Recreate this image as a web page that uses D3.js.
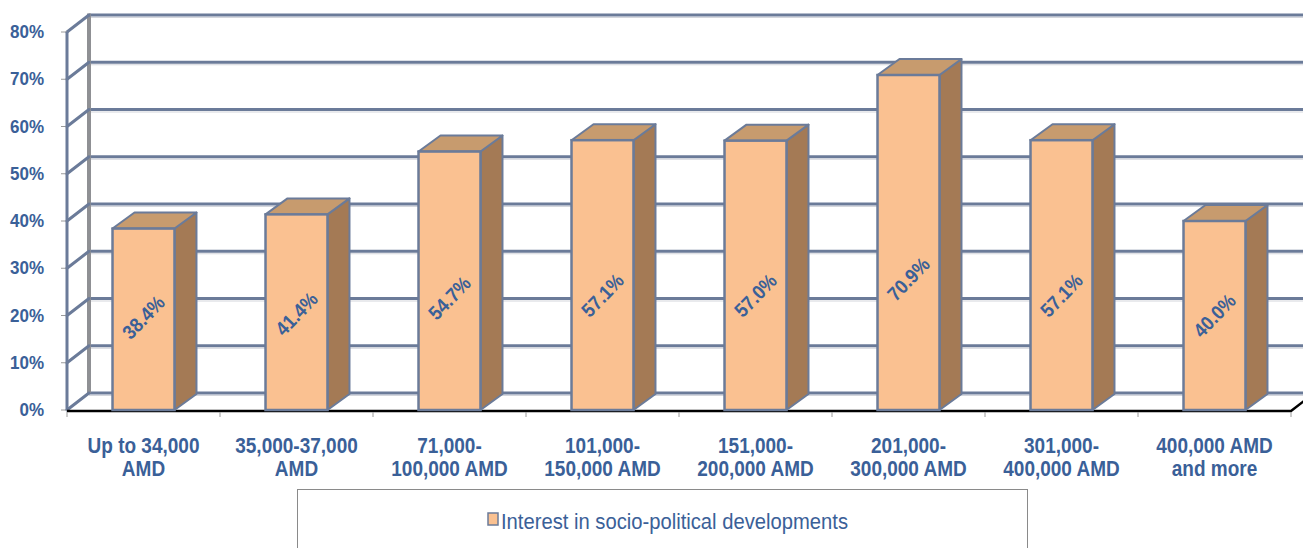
<!DOCTYPE html>
<html>
<head>
<meta charset="utf-8">
<script src="https://cdn.jsdelivr.net/npm/d3@7/dist/d3.min.js"></script>
<style>
  html, body { margin: 0; padding: 0; background: #fff; }
  svg { display: block; }
  text { font-family: "Liberation Sans", Arial, sans-serif; }
</style>
</head>
<body>
<svg id="chart" width="1303" height="548"></svg>
<script>
// Income groups (two-line labels) and share interested in socio-political developments (%)
const categories = [
  "Up to 34,000 AMD", "35,000-37,000 AMD", "71,000-100,000 AMD", "101,000-150,000 AMD",
  "151,000-200,000 AMD", "201,000-300,000 AMD", "301,000-400,000 AMD", "400,000 AMD and more"
];
const categoryLines = [
  ["Up to 34,000", "AMD"], ["35,000-37,000", "AMD"], ["71,000-", "100,000 AMD"],
  ["101,000-", "150,000 AMD"], ["151,000-", "200,000 AMD"], ["201,000-", "300,000 AMD"],
  ["301,000-", "400,000 AMD"], ["400,000 AMD", "and more"]
];
const values = [38.4, 41.4, 54.7, 57.1, 57.0, 70.9, 57.1, 40.0];
const yTicks = [0, 10, 20, 30, 40, 50, 60, 70, 80];
const seriesName = "Interest in socio-political developments";

const svg = d3.select("#chart");
const TEXT = "#3A6098";
const GRID = "#6B7B99";

// Front plane scales; the back wall is offset by a fixed depth vector
const x = d3.scaleBand().domain(categories).range([67, 1291]).paddingInner(0).paddingOuter(0);
const y = d3.scaleLinear().domain([0, 80]).range([410, 32]);
const WX = 22, WY = -17;   // wall depth
const BX = 22, BY = -16;   // bar depth
const barW = x.bandwidth() * 0.405;

// Back wall gridlines (with a faint shadow line below each)
const wall = svg.append("g");
yTicks.forEach(t => {
  const yy = y(t) + WY;
  wall.append("line").attr("x1", 67 + WX).attr("x2", 1313).attr("y1", yy + 2.5).attr("y2", yy + 2.5)
    .attr("stroke", "#d4d6dc").attr("stroke-width", 1.2);
  wall.append("line").attr("x1", 67 + WX).attr("x2", 1313).attr("y1", yy).attr("y2", yy)
    .attr("stroke", GRID).attr("stroke-width", 3);
});
// Back-left wall edge
wall.append("line").attr("x1", 67 + WX).attr("x2", 67 + WX).attr("y1", y(80) + WY - 1.5).attr("y2", y(0) + WY)
  .attr("stroke", "#8f9094").attr("stroke-width", 4);

// Side wall: front axis line and depth connectors
yTicks.forEach(t => {
  wall.append("line").attr("x1", 67).attr("y1", y(t)).attr("x2", 67 + WX).attr("y2", y(t) + WY)
    .attr("stroke", GRID).attr("stroke-width", 3).attr("stroke-linecap", "round");
  wall.append("line").attr("x1", 61).attr("x2", 67).attr("y1", y(t)).attr("y2", y(t))
    .attr("stroke", "#9a9a9a").attr("stroke-width", 1);
});
wall.append("line").attr("x1", 67).attr("x2", 67).attr("y1", y(80)).attr("y2", y(0))
  .attr("stroke", GRID).attr("stroke-width", 3);

// Floor front edge
wall.append("path")
  .attr("d", `M67,${y(0) + 1}L1291,${y(0) + 1}L${1291 + 13},${y(0) - 9}`)
  .attr("fill", "none").attr("stroke", "#000").attr("stroke-width", 2.5);
// Category tick marks on the floor edge
x.domain().concat([null]).forEach(c => {
  const xx = c === null ? 1291 : x(c);
  wall.append("line").attr("x1", xx).attr("x2", xx).attr("y1", y(0) + 2).attr("y2", y(0) + 7)
    .attr("stroke", "#9a9a9a").attr("stroke-width", 1);
});

// Y axis labels
svg.append("g").selectAll("text").data(yTicks).join("text")
  .attr("transform", d => `translate(44,${y(d) + 6}) scale(1,1.08)`)
  .attr("text-anchor", "end").attr("font-size", 17).attr("font-weight", "bold")
  .attr("fill", TEXT).text(d => d + "%");

// 3D columns
const bars = svg.append("g").selectAll("g").data(values).join("g");
bars.each(function(v, i) {
  const g = d3.select(this);
  const x0 = x(categories[i]) + (x.bandwidth() - barW) / 2;
  const x1 = x0 + barW;
  const yt = y(v), yb = y(0);
  g.append("polygon")
    .attr("points", [[x1, yt], [x1 + BX, yt + BY], [x1 + BX, yb + BY], [x1, yb]].join(" "))
    .attr("fill", "#A47A55").attr("stroke", GRID).attr("stroke-width", 2).attr("stroke-linejoin", "round");
  g.append("polygon")
    .attr("points", [[x0, yt], [x0 + BX, yt + BY], [x1 + BX, yt + BY], [x1, yt]].join(" "))
    .attr("fill", "#C79B6E").attr("stroke", GRID).attr("stroke-width", 2).attr("stroke-linejoin", "round");
  g.append("rect")
    .attr("x", x0).attr("y", yt).attr("width", barW).attr("height", yb - yt)
    .attr("fill", "#FAC191").attr("stroke", GRID).attr("stroke-width", 2.5);
  // Value label, rotated, placed in the lower-middle part of the column
  const ly = y(10 + v * 0.25);
  g.append("text")
    .attr("transform", `translate(${x0 + barW / 2},${ly}) rotate(-46) scale(1,1.1)`)
    .attr("text-anchor", "middle").attr("dy", "0.35em")
    .attr("font-size", 18).attr("font-weight", "bold").attr("fill", TEXT)
    .text(v.toFixed(1) + "%");
});

// Category labels
const cat = svg.append("g").selectAll("g").data(categories).join("g")
  .attr("transform", c => `translate(${x(c) + x.bandwidth() / 2},453) scale(1,1.15)`);
cat.each(function(c, i) {
  const t = d3.select(this).append("text")
    .attr("text-anchor", "middle").attr("font-size", 19).attr("font-weight", "bold").attr("fill", TEXT);
  categoryLines[i].forEach((line, k) => {
    t.append("tspan").attr("x", 0).attr("y", k * 20).text(line);
  });
});

// Legend
const lg = svg.append("g");
lg.append("rect").attr("x", 297.5).attr("y", 489.5).attr("width", 730).attr("height", 80)
  .attr("fill", "#fff").attr("stroke", "#8a8a8a").attr("stroke-width", 1);
lg.append("rect").attr("x", 488).attr("y", 513).attr("width", 10).attr("height", 12)
  .attr("fill", "#FAC191").attr("stroke", GRID).attr("stroke-width", 1.5);
lg.append("text").attr("transform", "translate(501,528.5) scale(1,1.2)")
  .attr("font-size", 18.5).attr("fill", TEXT)
  .attr("textLength", 347).attr("lengthAdjust", "spacingAndGlyphs")
  .text(seriesName);
</script>
</body>
</html>
